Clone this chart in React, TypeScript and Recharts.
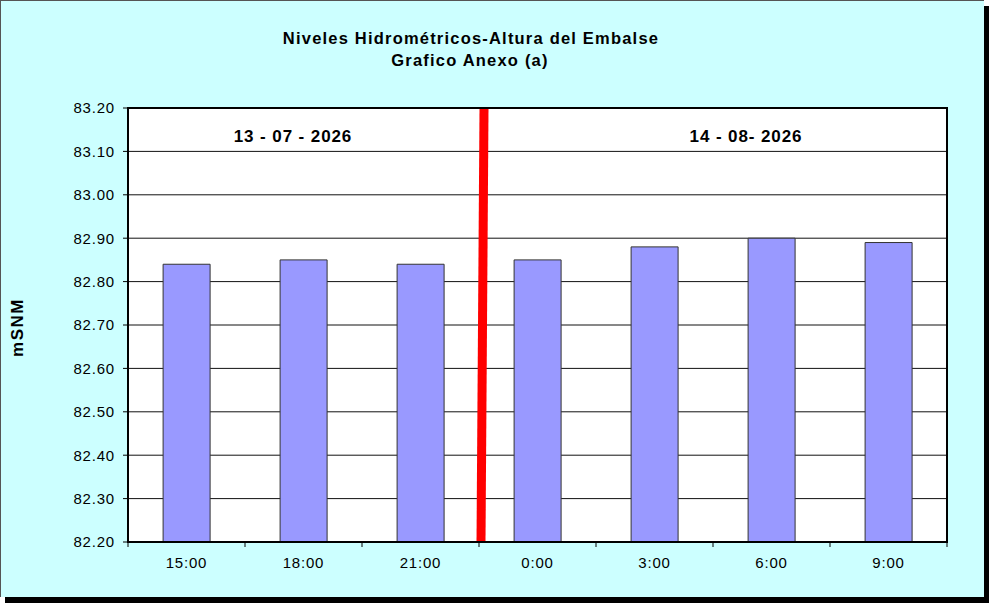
import React from 'react';
import { BarChart, Bar, XAxis, YAxis, CartesianGrid, ReferenceLine, ReferenceArea } from 'recharts';

const categories = ['15:00', '18:00', '21:00', '0:00', '3:00', '6:00', '9:00'];
const levels = [82.84, 82.85, 82.84, 82.85, 82.88, 82.9, 82.89];
const yTicks = [82.2, 82.3, 82.4, 82.5, 82.6, 82.7, 82.8, 82.9, 83.0, 83.1, 83.2];
const titleLines = ['Niveles Hidrométricos-Altura del Embalse', 'Grafico Anexo (a)'];
const dateLabels = ['13 - 07 - 2026', '14 - 08- 2026'];
const dividerAfter = '21:00';
const yAxisTitle = 'mSNM';

const data = categories.map((c, i) => ({ time: c, level: levels[i] }));

const CHART_W = 984;
const CHART_H = 597;
const MARGIN = { top: 108, right: 37, bottom: 25, left: 0 };
const Y_AXIS_W = 128;
const PLOT_W = CHART_W - MARGIN.left - MARGIN.right - Y_AXIS_W;
const BAND = PLOT_W / categories.length;
const FONT = '"Liberation Sans", Arial, sans-serif';

const XTick = (props: any) => {
  const { x, y, payload } = props;
  const index = props.index ?? payload?.index ?? 0;
  const half = BAND / 2;
  const axisY = y - 15;
  return (
    <g>
      <line x1={x - half} x2={x - half} y1={axisY} y2={axisY + 5} stroke="#000" strokeWidth={1} />
      {index === categories.length - 1 && (
        <line x1={x + half} x2={x + half} y1={axisY} y2={axisY + 5} stroke="#000" strokeWidth={1} />
      )}
      <text
        x={x}
        y={y}
        dy="0.71em"
        textAnchor="middle"
        fontFamily={FONT}
        fontSize={15}
        letterSpacing={0.8}
        fill="#000"
      >
        {payload.value}
      </text>
    </g>
  );
};

// The hand-drawn divider in the original sits slightly right of the band edge and leans a little.
const DividerShape = (props: any) => {
  const { x1, y1, x2, y2 } = props;
  const top = Math.min(y1, y2);
  const bottom = Math.max(y1, y2);
  return (
    <line
      x1={x1 + 5}
      y1={top + 1}
      x2={x2 + 2}
      y2={bottom}
      stroke="#FF0000"
      strokeWidth={9}
    />
  );
};

export default function App() {
  return (
    <div style={{ position: 'absolute', left: 0, top: 0, width: 989, height: 603, background: '#fff' }}>
      <div
        style={{
          position: 'absolute',
          left: 0,
          top: 0,
          width: CHART_W,
          height: CHART_H,
          boxSizing: 'border-box',
          background: '#CCFFFF',
          borderLeft: '1px solid #555',
          borderTop: '1px solid #555',
          boxShadow: '5px 6px 0 #000',
        }}
      />
      <div style={{ position: 'absolute', left: 0, top: 0 }}>
        <BarChart width={CHART_W} height={CHART_H} data={data} margin={MARGIN} barCategoryGap="30%">
          <CartesianGrid vertical={false} stroke="#111" strokeWidth={1} fill="#fff" fillOpacity={1} />
          <XAxis
            dataKey="time"
            height={30}
            interval={0}
            tickLine={false}
            tickSize={5}
            tickMargin={10}
            axisLine={{ stroke: '#000', strokeWidth: 2 }}
            tick={<XTick />}
          />
          <YAxis
            width={Y_AXIS_W}
            domain={[82.2, 83.2]}
            ticks={yTicks}
            allowDataOverflow
            tickFormatter={(v: number) => v.toFixed(2)}
            tickSize={5}
            tickMargin={8}
            axisLine={{ stroke: '#000', strokeWidth: 2 }}
            tickLine={{ stroke: '#000' }}
            tick={{ fill: '#000', fontFamily: FONT, fontSize: 15, letterSpacing: 0.8 }}
          />
          <Bar dataKey="level" fill="#9999FF" stroke="#333" strokeWidth={1} isAnimationActive={false} />
          <ReferenceLine
            x={dividerAfter}
            position="end"
            stroke="#FF0000"
            strokeWidth={9}
            shape={<DividerShape />}
          />
          <ReferenceArea y1={82.2} y2={83.2} fill="none" stroke="#000" strokeWidth={2} />
        </BarChart>
      </div>
      <svg
        width={989}
        height={603}
        style={{ position: 'absolute', left: 0, top: 0, pointerEvents: 'none' }}
      >
        <g fontFamily={FONT} fontWeight="bold" fill="#000">
          <text x={471} y={44} textAnchor="middle" fontSize={16.5} letterSpacing={1.2}>
            {titleLines[0]}
          </text>
          <text x={470} y={65.5} textAnchor="middle" fontSize={16.5} letterSpacing={1.2}>
            {titleLines[1]}
          </text>
          <text x={293} y={141.5} textAnchor="middle" fontSize={17} letterSpacing={0.9}>
            {dateLabels[0]}
          </text>
          <text x={746} y={141.5} textAnchor="middle" fontSize={17} letterSpacing={0.9}>
            {dateLabels[1]}
          </text>
          <text
            x={22.5}
            y={327.5}
            textAnchor="middle"
            fontSize={17}
            letterSpacing={1.5}
            transform="rotate(-90 22.5 327.5)"
          >
            {yAxisTitle}
          </text>
        </g>
      </svg>
    </div>
  );
}
